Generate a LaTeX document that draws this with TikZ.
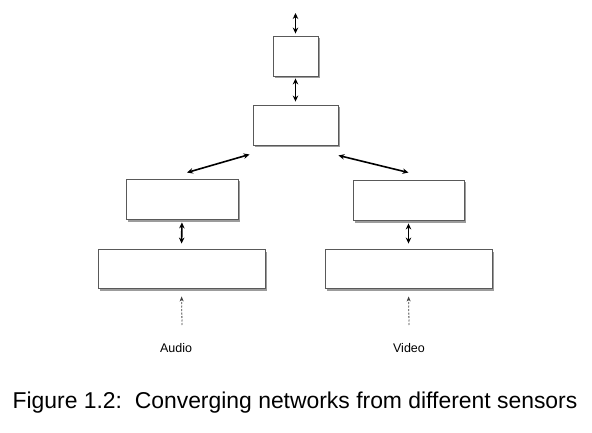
\documentclass[tikz,border=0pt]{standalone}
\usepackage{fontspec}
\setmainfont{Liberation Sans}
\usetikzlibrary{arrows.meta,shadows,calc}
\begin{document}
\begin{tikzpicture}[x=1pt,y=-1pt,
  box/.style={draw=black!65, line width=0.9pt, fill=white, inner sep=0pt,
    drop shadow={shadow xshift=1.5pt, shadow yshift=-2.5pt, fill=black!55, opacity=0.7}},
  link/.style={line width=1.6pt, black, {Stealth[length=6pt,width=5.5pt]}-{Stealth[length=6pt,width=5.5pt]}},
  feed/.style={line width=0.8pt, black!75, dash pattern=on 2pt off 1.5pt, -{Stealth[length=5pt,width=4pt]}},
  lab/.style={font=\fontsize{12.5}{14}\selectfont, inner sep=0pt}]
\useasboundingbox (0,0) rectangle (592,433);
\fill[white] (0,0) rectangle (592,433);
\node[box, minimum width=45pt, minimum height=40pt] (top) at (295.5,56) {};
\node[box, minimum width=85pt, minimum height=40pt] (mid) at (295.5,125) {};
\node[box, minimum width=112pt, minimum height=40pt] (L1) at (182,199) {};
\node[box, minimum width=111pt, minimum height=40pt] (R1) at (408.5,200) {};
\node[box, minimum width=167pt, minimum height=39pt] (L2) at (181.5,268.5) {};
\node[box, minimum width=167pt, minimum height=39pt] (R2) at (408.5,268.5) {};
\coordinate (out) at (295.5,13);
\draw[link, shorten >=2pt] (out) -- (top.north);
\draw[link, shorten <=2pt, shorten >=3pt] (top.south) -- (mid.north);
\coordinate (ml) at ($(mid.south west)+(-3,9)$);
\coordinate (lt) at ($(L1.north)+(5,-6)$);
\draw[link] (ml) -- (lt);
\coordinate (mr) at ($(mid.south east)+(0,10)$);
\coordinate (rt) at ($(R1.north)+(0,-7)$);
\draw[link] (mr) -- (rt);
\draw[link, shorten <=3pt, shorten >=5pt] (L1.south) -- (L2.north);
\draw[link, shorten <=3pt, shorten >=5pt] (R1.south) -- (R2.north);
\node[lab] (audio) at (176,348) {Audio};
\node[lab] (video) at (409,348) {Video};
\coordinate (ain) at (182,325);
\coordinate (vin) at (409,325);
\draw[feed, shorten >=8pt] (ain) -- (L2.south);
\draw[feed, shorten >=8pt] (vin) -- (R2.south);
\node[font=\fontsize{22.9}{26}\selectfont, inner sep=0pt] (cap) at (295,403) {Figure 1.2:\ \ Converging networks from different sensors};
\end{tikzpicture}
\end{document}
